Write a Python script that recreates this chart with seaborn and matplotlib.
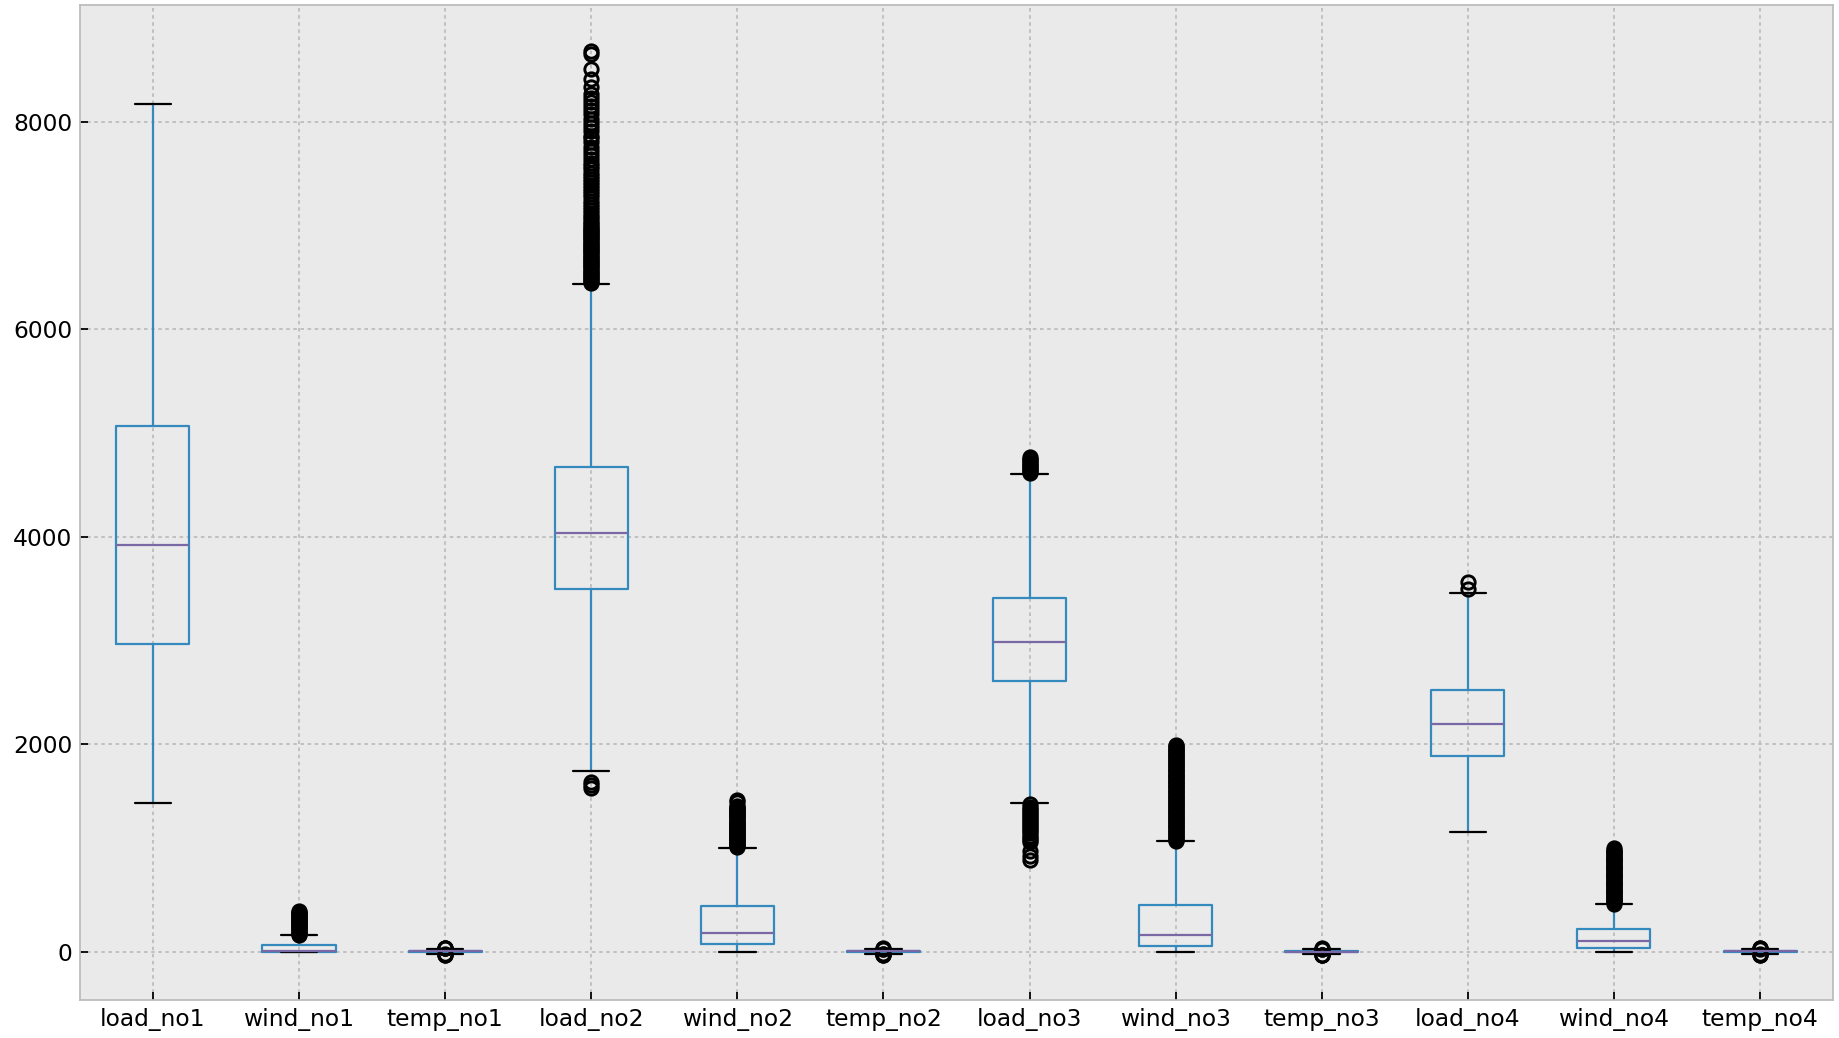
import matplotlib
matplotlib.use("Agg")
import matplotlib.pyplot as plt
import seaborn as sns

# Summary statistics per column (load, wind, temperature)
columns = ["load_no1", "wind_no1", "temp_no1", "load_no2", "wind_no2", "temp_no2",
           "load_no3", "wind_no3", "temp_no3", "load_no4", "wind_no4", "temp_no4"]
whislo = [1437, 0, -22, 1741, 0, -20, 1437, 0, -24, 1155, 0, -21]
q1 = [2968, 0, -3, 3492, 73, -2, 2613, 54, -4, 1884, 37, -3]
median = [3917, 8, 4, 4040, 179, 3, 2983, 163, 2, 2192, 103, 3]
q3 = [5063, 64, 11, 4675, 438, 9, 3414, 453, 8, 2524, 216, 10]
whishi = [8167, 158, 30, 6438, 1002, 26, 4603, 1065, 25, 3461, 461, 28]

fliers_load_no1 = []
fliers_wind_no1 = [165, 175, 185, 195, 205, 215, 225, 235, 245, 255, 265, 275,
                   285, 295, 305, 315, 325, 335, 345, 355, 365, 375, 385, 390]
fliers_temp_no1 = [-25, -28, -30, 33, 36, 39]
fliers_load_no2 = [1580, 1609, 1635,
                   6445, 6460, 6475, 6490, 6505, 6520, 6535, 6550, 6565, 6580,
                   6595, 6610, 6625, 6640, 6655, 6670, 6685, 6700, 6715, 6730,
                   6745, 6760, 6775, 6790, 6805, 6820, 6835, 6850, 6865, 6880,
                   6895, 6910, 6925, 6940, 6955, 6970, 6985, 7000, 7020, 7045,
                   7070, 7095, 7120, 7150, 7180, 7210, 7240, 7270, 7300, 7330,
                   7360, 7390, 7420, 7450, 7480, 7510, 7540, 7570, 7600, 7640,
                   7680, 7720, 7757, 7800, 7840, 7866, 7910, 7950, 7990, 8030,
                   8070, 8110, 8150, 8190, 8230, 8270, 8330, 8416, 8512, 8650, 8686]
fliers_wind_no2 = [1005, 1015, 1025, 1035, 1045, 1055, 1065, 1075, 1085, 1095,
                   1105, 1115, 1125, 1135, 1145, 1155, 1165, 1175, 1185, 1195,
                   1205, 1215, 1225, 1235, 1245, 1255, 1265, 1275, 1285, 1295,
                   1305, 1315, 1325, 1335, 1345, 1355, 1365, 1375, 1385, 1395,
                   1407, 1440, 1462]
fliers_temp_no2 = [-23, -26, -29, -31, 28, 31, 34]
fliers_load_no3 = [880, 920, 975, 1060, 1080, 1100, 1120, 1140, 1160, 1180, 1200,
                   1220, 1240, 1260, 1280, 1300, 1320, 1340, 1360, 1380, 1400, 1420,
                   4615, 4630, 4645, 4660, 4675, 4690, 4705, 4720, 4735, 4750, 4770]
fliers_wind_no3 = [1070, 1082, 1094, 1106, 1118, 1130, 1142, 1154, 1166, 1178,
                   1190, 1202, 1214, 1226, 1238, 1250, 1262, 1274, 1286, 1298,
                   1310, 1322, 1334, 1346, 1358, 1370, 1382, 1394, 1406, 1418,
                   1430, 1442, 1454, 1466, 1478, 1490, 1502, 1514, 1526, 1538,
                   1550, 1562, 1574, 1586, 1598, 1610, 1622, 1634, 1646, 1658,
                   1670, 1682, 1694, 1706, 1718, 1730, 1742, 1754, 1766, 1778,
                   1790, 1802, 1814, 1826, 1838, 1850, 1862, 1874, 1886, 1898,
                   1910, 1922, 1934, 1946, 1958, 1970, 1982, 1995]
fliers_temp_no3 = [-27, -30, -33, 27, 30, 33]
fliers_load_no4 = [3495, 3568]
fliers_wind_no4 = [465, 476, 487, 498, 509, 520, 531, 542, 553, 564, 575, 586,
                   597, 608, 619, 630, 641, 652, 663, 674, 685, 696, 707, 718,
                   729, 740, 751, 762, 773, 784, 795, 806, 817, 828, 839, 850,
                   861, 872, 883, 894, 905, 916, 927, 938, 949, 960, 971, 982, 997]
fliers_temp_no4 = [-24, -27, -30, 30, 33, 36]

fliers = [fliers_load_no1, fliers_wind_no1, fliers_temp_no1,
          fliers_load_no2, fliers_wind_no2, fliers_temp_no2,
          fliers_load_no3, fliers_wind_no3, fliers_temp_no3,
          fliers_load_no4, fliers_wind_no4, fliers_temp_no4]

# bmh-like look on top of a seaborn style
sns.set_style("darkgrid", rc={
    "axes.facecolor": "#eaeaea",
    "axes.edgecolor": "#bcbcbc",
    "axes.linewidth": 0.8,
    "axes.axisbelow": True,
    "grid.color": "#bdbdbd",
    "grid.linestyle": (0, (2, 2)),
    "grid.linewidth": 0.5,
    "xtick.bottom": True,
    "ytick.left": True,
    "xtick.direction": "in",
    "ytick.direction": "in",
    "xtick.color": "black",
    "ytick.color": "black",
    "text.color": "black",
    "font.family": ["DejaVu Sans"],
})
palette = sns.color_palette(["#348ABD", "#A60628", "#7A68A6"])

fig, ax = plt.subplots(figsize=(1839 / 160, 1038 / 160), dpi=160)
fig.subplots_adjust(left=0.0434, right=0.9968, top=0.9949, bottom=0.0362)

stats = [dict(label=c, whislo=lo, q1=a, med=m, q3=b, whishi=hi, fliers=f)
         for c, lo, a, m, b, hi, f in zip(columns, whislo, q1, median, q3, whishi, fliers)]

ax.bxp(stats, widths=0.5,
       boxprops=dict(color=palette[0], linewidth=1.0),
       whiskerprops=dict(color=palette[0], linewidth=1.0),
       capprops=dict(color="black", linewidth=1.0),
       medianprops=dict(color=palette[2], linewidth=1.0),
       flierprops=dict(marker="o", markerfacecolor="none", markeredgecolor="black",
                       markersize=6, markeredgewidth=1.3, linestyle="none"))

ax.grid(True)
ax.tick_params(axis="both", labelsize=10.5, length=3.5, width=0.8)
ax.set_yticks([0, 2000, 4000, 6000, 8000])

fig.savefig("out.png", dpi=160)
